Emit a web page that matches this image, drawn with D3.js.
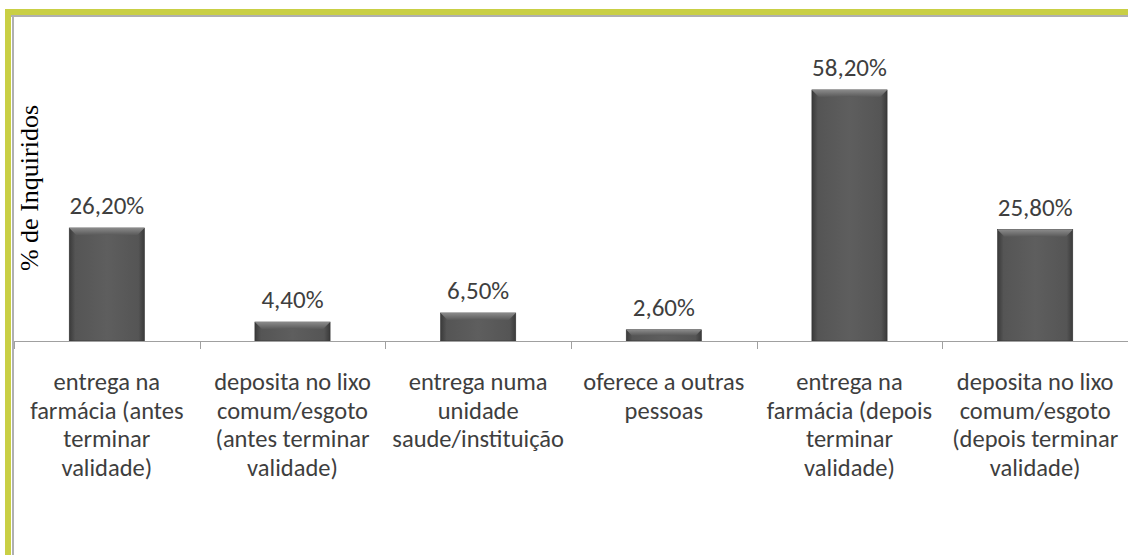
<!DOCTYPE html>
<html>
<head>
<meta charset="utf-8">
<script src="https://cdn.jsdelivr.net/npm/d3@7"></script>
<style>
  html, body { margin: 0; padding: 0; background: #fff; }
  #vis { width: 1128px; height: 555px; }
</style>
</head>
<body>
<div id="vis"></div>
<script>
// dados
const categorias = [
  ["entrega na", "farmácia (antes", "terminar", "validade)"],
  ["deposita no lixo", "comum/esgoto", "(antes terminar", "validade)"],
  ["entrega numa", "unidade", "saude/instituição"],
  ["oferece a outras", "pessoas"],
  ["entrega na", "farmácia (depois", "terminar", "validade)"],
  ["deposita no lixo", "comum/esgoto", "(depois terminar", "validade)"]
];
const valores = [26.2, 4.4, 6.5, 2.6, 58.2, 25.8];
const rotulos = ["26,20%", "4,40%", "6,50%", "2,60%", "58,20%", "25,80%"];

const width = 1128, height = 555;
const margins = { top: 39, right: 0, bottom: 214, left: 14 };
const fonte = "Carlito, Lato, 'Open Sans', sans-serif";

const svg = d3.select("#vis").append("svg")
  .attr("width", width)
  .attr("height", height);

// moldura verde + linha cinza
svg.append("rect").attr("x", 5).attr("y", 9).attr("width", width).attr("height", 6).attr("fill", "#c9cf45");
svg.append("rect").attr("x", 5).attr("y", 9).attr("width", 6).attr("height", height).attr("fill", "#c9cf45");
svg.append("rect").attr("x", 11).attr("y", 15).attr("width", width).attr("height", 2).attr("fill", "#b0b0b0");
svg.append("rect").attr("x", 12).attr("y", 15).attr("width", 2).attr("height", height).attr("fill", "#b0b0b0");

// gradiente das barras
const defs = svg.append("defs");
const grad = defs.append("linearGradient").attr("id", "gbar").attr("x1", 0).attr("x2", 1).attr("y1", 0).attr("y2", 0);
grad.append("stop").attr("offset", "0%").attr("stop-color", "#3a3a3a");
grad.append("stop").attr("offset", "8%").attr("stop-color", "#555");
grad.append("stop").attr("offset", "50%").attr("stop-color", "#5e5e5e");
grad.append("stop").attr("offset", "92%").attr("stop-color", "#555");
grad.append("stop").attr("offset", "100%").attr("stop-color", "#3a3a3a");
const gtop = defs.append("linearGradient").attr("id", "gtop").attr("x1", 0).attr("x2", 0).attr("y1", 0).attr("y2", 1);
gtop.append("stop").attr("offset", "0%").attr("stop-color", "#8a8a8a");
gtop.append("stop").attr("offset", "100%").attr("stop-color", "#5a5a5a");

// escalas
const xScale = d3.scaleBand()
  .domain(d3.range(valores.length))
  .range([margins.left, width - margins.right])
  .paddingInner(0)
  .paddingOuter(0);

const yScale = d3.scaleLinear()
  .domain([0, 70])
  .range([height - margins.bottom, margins.top]);

const bw = xScale.bandwidth() * 0.405;
const y0 = yScale(0);

// barras
const barras = svg.append("g").selectAll("g").data(valores).join("g");
barras.append("rect")
  .attr("x", (d, i) => xScale(i) + (xScale.bandwidth() - bw) / 2)
  .attr("y", d => yScale(d))
  .attr("width", bw)
  .attr("height", d => y0 - yScale(d))
  .attr("fill", "url(#gbar)")
  .attr("stroke", "#333")
  .attr("stroke-width", 0.6);

// bisel superior
barras.append("path")
  .attr("d", (d, i) => {
    const x = xScale(i) + (xScale.bandwidth() - bw) / 2;
    const y = yScale(d);
    const b = Math.min(7, (y0 - y) / 2);
    return `M${x},${y} L${x + bw},${y} L${x + bw - b},${y + b} L${x + b},${y + b} Z`;
  })
  .attr("fill", "url(#gtop)");

// eixo x
svg.append("line")
  .attr("x1", margins.left).attr("x2", width)
  .attr("y1", y0 + 0.5).attr("y2", y0 + 0.5)
  .attr("stroke", "#a0a0a0");

svg.append("g").selectAll("line")
  .data(d3.range(valores.length + 1))
  .join("line")
  .attr("x1", i => Math.round(margins.left + i * xScale.step()) + 0.5)
  .attr("x2", i => Math.round(margins.left + i * xScale.step()) + 0.5)
  .attr("y1", y0)
  .attr("y2", y0 + 8)
  .attr("stroke", "#a0a0a0");

// rotulos dos valores
svg.append("g").selectAll("text").data(valores).join("text")
  .attr("x", (d, i) => xScale(i) + xScale.bandwidth() / 2)
  .attr("y", d => yScale(d) - 14)
  .attr("text-anchor", "middle")
  .attr("font-family", fonte)
  .attr("font-size", 25)
  .attr("fill", "#3e3e3e")
  .text((d, i) => rotulos[i]);

// categorias
const cat = svg.append("g").selectAll("text").data(categorias).join("text")
  .attr("text-anchor", "middle")
  .attr("font-family", fonte)
  .attr("font-size", 24.5)
  .attr("fill", "#3e3e3e");
cat.each(function(linhas, i) {
  d3.select(this).selectAll("tspan").data(linhas).join("tspan")
    .attr("x", xScale(i) + xScale.bandwidth() / 2)
    .attr("y", (l, j) => 390 + j * 28.7)
    .text(l => l);
});

// titulo eixo y
svg.append("text")
  .attr("transform", `translate(38, 188) rotate(-90)`)
  .attr("text-anchor", "middle")
  .attr("font-family", "'Liberation Serif', 'Times New Roman', serif")
  .attr("font-size", 26)
  .attr("fill", "#000")
  .text("% de Inquiridos");
</script>
</body>
</html>
